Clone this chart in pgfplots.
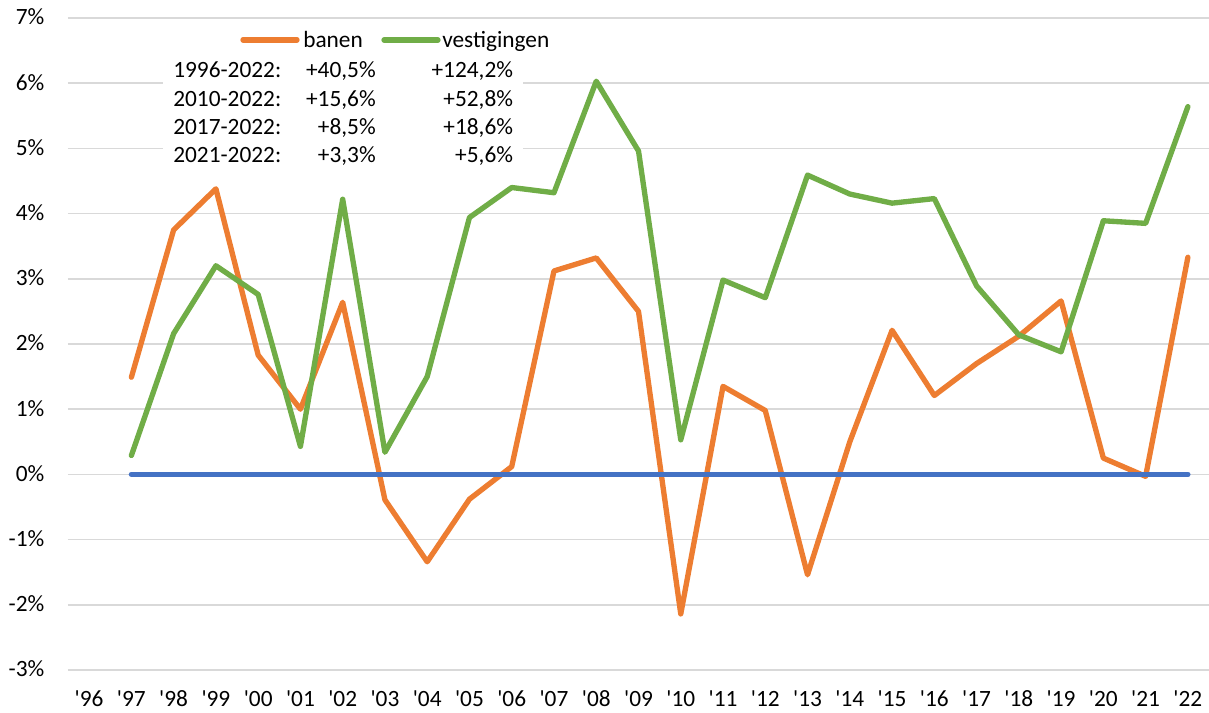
\documentclass[border=0pt]{standalone}
\usepackage{pgfplots}
\pgfplotsset{compat=1.18}
\usepackage{pgfplotstable}
\usepackage{fontspec}
\setmainfont{Carlito}
\newfontfamily\cf{Carlito}
\definecolor{cOr}{HTML}{ED7D31}
\definecolor{cGr}{HTML}{70AD47}
\definecolor{cBl}{HTML}{4472C4}
\definecolor{cGrid}{HTML}{D9D9D9}

\pgfplotstableread{
x banen vest nul
1 1.49 0.29 0
2 3.75 2.16 0
3 4.38 3.20 0
4 1.83 2.76 0
5 1.00 0.43 0
6 2.64 4.22 0
7 -0.39 0.34 0
8 -1.34 1.50 0
9 -0.38 3.94 0
10 0.12 4.40 0
11 3.12 4.32 0
12 3.32 6.03 0
13 2.50 4.96 0
14 -2.14 0.53 0
15 1.35 2.98 0
16 0.98 2.71 0
17 -1.54 4.59 0
18 0.50 4.30 0
19 2.21 4.16 0
20 1.21 4.23 0
21 1.70 2.89 0
22 2.12 2.14 0
23 2.66 1.88 0
24 0.25 3.89 0
25 -0.03 3.85 0
26 3.33 5.64 0
}\data

\begin{document}
\cf
\begin{tikzpicture}[font=\cf\fontsize{17.5}{21}\selectfont]
\begin{axis}[
  scale only axis, width=855.75pt, height=489pt,
  xmin=-0.5, xmax=26.5, ymin=-3, ymax=7,
  axis line style={draw=none},
  major tick length=0pt,
  xtick={0,...,26},
  xticklabels={'96,'97,'98,'99,'00,'01,'02,'03,'04,'05,'06,'07,'08,'09,'10,'11,'12,'13,'14,'15,'16,'17,'18,'19,'20,'21,'22},
  ytick={-3,...,7},
  yticklabels={-3\%,-2\%,-1\%,0\%,1\%,2\%,3\%,4\%,5\%,6\%,7\%},
  ymajorgrids, grid style={cGrid, line width=1.2pt},
  xticklabel style={anchor=base, inner sep=0pt, yshift=-27.5pt, font=\cf\fontsize{17.5}{21}\selectfont},
  yticklabel style={anchor=base east, inner sep=0pt, xshift=-17.5pt, yshift=-5.25pt, font=\cf\fontsize{17.5}{21}\selectfont},
  clip=false,
  every axis plot/.append style={line width=4pt, line join=round, line cap=round, no markers},
]
\fill[white] (axis cs:1.748,6.433) rectangle (axis cs:10.267,4.638);
\addplot[cOr] table[x=x, y=banen] {\data};
\addplot[cGr] table[x=x, y=vest] {\data};
\addplot[cBl] table[x=x, y=nul] {\data};

% legend
\draw[cOr, line width=4pt, line cap=round] (axis cs:3.641,6.663) -- (axis cs:4.919,6.663);
\node[anchor=base west, inner sep=0pt] at (axis cs:5.061,6.551) {banen};
\draw[cGr, line width=4pt, line cap=round] (axis cs:6.978,6.663) -- (axis cs:8.255,6.663);
\node[anchor=base west, inner sep=0pt] at (axis cs:8.350,6.551) {vestigingen};

% text box
\node[anchor=base west, inner sep=0pt] at (axis cs:1.985,6.080) {1996-2022:};
\node[anchor=base east, inner sep=0pt] at (axis cs:6.788,6.080) {+40,5\%};
\node[anchor=base east, inner sep=0pt] at (axis cs:10.037,6.080) {+124,2\%};
\node[anchor=base west, inner sep=0pt] at (axis cs:1.985,5.646) {2010-2022:};
\node[anchor=base east, inner sep=0pt] at (axis cs:6.788,5.646) {+15,6\%};
\node[anchor=base east, inner sep=0pt] at (axis cs:10.037,5.646) {+52,8\%};
\node[anchor=base west, inner sep=0pt] at (axis cs:1.985,5.212) {2017-2022:};
\node[anchor=base east, inner sep=0pt] at (axis cs:6.788,5.212) {+8,5\%};
\node[anchor=base east, inner sep=0pt] at (axis cs:10.037,5.212) {+18,6\%};
\node[anchor=base west, inner sep=0pt] at (axis cs:1.985,4.778) {2021-2022:};
\node[anchor=base east, inner sep=0pt] at (axis cs:6.788,4.778) {+3,3\%};
\node[anchor=base east, inner sep=0pt] at (axis cs:10.037,4.778) {+5,6\%};
\end{axis}
\pgfresetboundingbox
\path (current axis.south west) ++(-51pt,-32.25pt) rectangle ([yshift=13.5pt]current axis.north east);
\end{tikzpicture}
\end{document}
